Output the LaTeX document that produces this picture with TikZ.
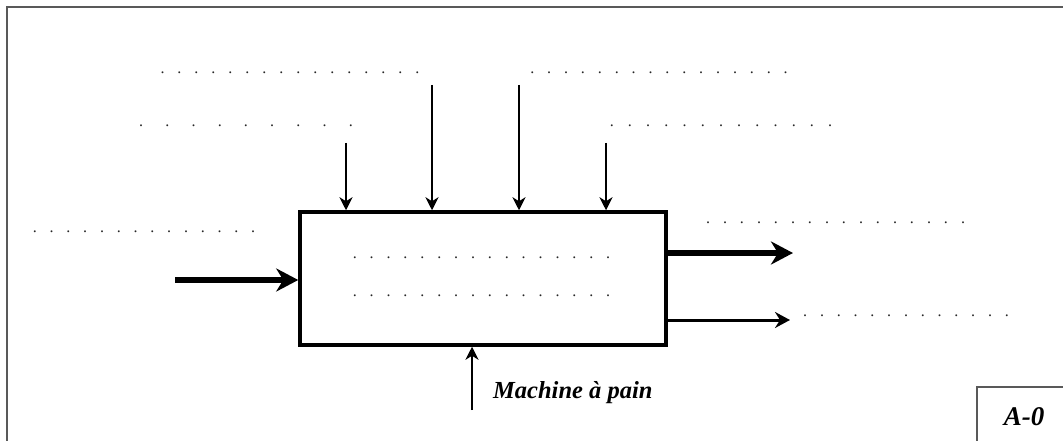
\documentclass[tikz,border=0pt]{standalone}
\usepackage{fontspec}
\setmainfont{Liberation Serif}
\usepackage{tikz}
\usetikzlibrary{positioning,arrows.meta}

% dotted blanks: #1 dots, #2 pt per dot
\newcommand{\pointilles}[2]{\foreach \k in {1,...,#1}{\makebox[#2pt]{.}}}

\begin{document}
\begin{tikzpicture}[x=1pt, y=-1pt,
  blanks/.style={inner sep=0pt, text=black!85, font=\fontsize{16}{16}\selectfont},
  fin/.style={line width=2pt, -{Stealth[length=13pt, width=13pt, inset=4pt]}},
  moyen/.style={line width=3pt, -{Stealth[length=15pt, width=16pt, inset=5pt]}},
  gros/.style={line width=6pt, -{Stealth[length=22pt, width=23pt, inset=7pt]}},
  cadre/.style={draw=black!65, line width=2.2pt}]
  \useasboundingbox (0,0) rectangle (1063,441);
  \clip (0,0) rectangle (1063,441);
  \draw[cadre] (7,7) rectangle (1090,470);

  \node[draw, line width=3.5pt, minimum width=366pt, minimum height=133pt] (act) at (483,278.5) {};

  % controles
  \node[blanks] (c1) at (290,73) {\pointilles{16}{17}};
  \node[blanks] (c2) at (246,126) {\pointilles{9}{26.2}};
  \node[blanks] (c3) at (659,73) {\pointilles{16}{16.9}};
  \node[blanks] (c4) at (721,126) {\pointilles{13}{18.2}};
  \coordinate (t1) at (346,143);
  \coordinate (t2) at (432,85);
  \coordinate (t3) at (519,85);
  \coordinate (t4) at (606,143);
  \foreach \t in {t1,t2,t3,t4}
    \draw[fin] (\t) -- (\t |- act.north);

  % entree
  \node[blanks] (in) at (144,232) {\pointilles{14}{16.8}};
  \coordinate (e1) at (175,280);
  \draw[gros] (e1) -- (e1 -| act.west);

  % interieur
  \node[blanks] (a1) at (481.5,258) {\pointilles{16}{16.9}};
  \node[blanks] (a2) at (481.5,296) {\pointilles{16}{16.9}};

  % sorties
  \node[blanks] (s1) at (835.5,223) {\pointilles{16}{17}};
  \node[blanks] (s2) at (906,316) {\pointilles{13}{16.8}};
  \coordinate (o1) at (793,253);
  \coordinate (o2) at (790,320);
  \draw[gros] (o1 -| act.east) -- (o1);
  \draw[moyen] (o2 -| act.east) -- (o2);

  % support
  \coordinate (m1) at (472,410);
  \draw[fin] (m1) -- (m1 |- act.south);
  \node[anchor=base west, inner sep=0pt, font=\fontsize{24.5}{26}\selectfont\bfseries\itshape] (mach) at (493,398) {Machine à pain};

  \draw[cadre] (977,387) rectangle (1090,470);
  \node[anchor=base, inner sep=0pt, font=\fontsize{27}{30}\selectfont\bfseries\itshape] (ref) at (1024,425) {A-0};
\end{tikzpicture}
\end{document}
